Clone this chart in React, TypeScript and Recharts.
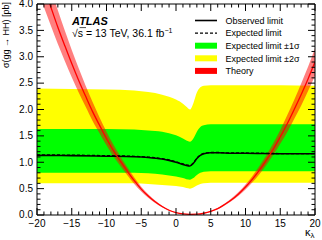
import React from 'react';
import { ComposedChart, Area, Line, XAxis, YAxis, Legend, ReferenceLine } from 'recharts';

const FONT = '"Liberation Sans", Arial, Helvetica, sans-serif';

// kappa_lambda grid for the limit curves
const kappaBand = [-20, -15, -10, -6, -4, -2, -1, 0, 1, 1.5, 2, 2.5, 3, 3.5, 4, 5, 6, 8, 10, 15, 20];
const observed = [1.13, 1.125, 1.115, 1.105, 1.09, 1.06, 1.035, 1.0, 0.96, 0.94, 0.93, 0.98, 1.07, 1.13, 1.16, 1.18, 1.18, 1.17, 1.17, 1.16, 1.16];
const expected = [1.14, 1.135, 1.125, 1.113, 1.098, 1.068, 1.043, 1.008, 0.968, 0.948, 0.938, 0.988, 1.078, 1.138, 1.166, 1.185, 1.185, 1.175, 1.175, 1.165, 1.165];
const plus2 = [2.4, 2.39, 2.38, 2.36, 2.33, 2.28, 2.24, 2.19, 2.11, 2.05, 2.0, 2.12, 2.32, 2.42, 2.45, 2.46, 2.46, 2.46, 2.46, 2.46, 2.45];
const plus1 = [1.63, 1.63, 1.63, 1.62, 1.6, 1.58, 1.55, 1.51, 1.45, 1.41, 1.39, 1.45, 1.58, 1.67, 1.7, 1.72, 1.72, 1.72, 1.72, 1.72, 1.72];
const minus1 = [0.8, 0.8, 0.8, 0.8, 0.79, 0.77, 0.75, 0.73, 0.7, 0.68, 0.67, 0.7, 0.76, 0.8, 0.82, 0.83, 0.83, 0.83, 0.83, 0.83, 0.83];
const minus2 = [0.6, 0.6, 0.6, 0.6, 0.59, 0.57, 0.56, 0.55, 0.53, 0.51, 0.5, 0.52, 0.56, 0.59, 0.6, 0.61, 0.61, 0.61, 0.61, 0.61, 0.61];

// theory prediction
const kappaTheory = [-20, -19, -18, -17, -16, -15, -14, -13, -12, -11, -10, -9, -8, -7, -6, -5, -4, -3, -2, -1, 0, 1, 2, 3, 4, 5, 6, 7, 8, 9, 10, 11, 12, 13, 14, 15, 16, 17, 18, 19, 20];
const theory = [4.74, 4.33, 3.94, 3.56, 3.21, 2.87, 2.55, 2.25, 1.96, 1.7, 1.45, 1.22, 1.02, 0.83, 0.65, 0.49, 0.36, 0.25, 0.16, 0.09, 0.045, 0.02, 0.012, 0.015, 0.033, 0.068, 0.12, 0.2, 0.29, 0.4, 0.53, 0.68, 0.85, 1.04, 1.25, 1.48, 1.73, 2.0, 2.28, 2.58, 2.9];
const theoryLow = [4.31, 3.94, 3.59, 3.24, 2.92, 2.61, 2.32, 2.05, 1.78, 1.55, 1.32, 1.11, 0.93, 0.755, 0.59, 0.446, 0.328, 0.228, 0.146, 0.082, 0.041, 0.018, 0.011, 0.014, 0.03, 0.062, 0.109, 0.182, 0.264, 0.364, 0.482, 0.619, 0.774, 0.946, 1.14, 1.35, 1.57, 1.82, 2.07, 2.35, 2.64];
const theoryHigh = [5.17, 4.72, 4.29, 3.88, 3.5, 3.13, 2.78, 2.45, 2.14, 1.85, 1.58, 1.33, 1.11, 0.905, 0.71, 0.534, 0.392, 0.273, 0.174, 0.098, 0.049, 0.022, 0.013, 0.016, 0.036, 0.074, 0.131, 0.218, 0.316, 0.436, 0.578, 0.741, 0.927, 1.134, 1.36, 1.61, 1.89, 2.18, 2.49, 2.81, 3.16];

// axis ticks (all ticks; every 5th x tick and every 5th y tick is a labelled major tick)
const xMinor: number[] = [];
for (let i = -20; i <= 20; i++) xMinor.push(i);
const yMinor: number[] = [];
for (let i = 0; i <= 40; i++) yMinor.push(i / 10);
const X_DOMAIN = [-20, 20];
const Y_DOMAIN = [0, 4];

const legendItems = [
  { label: 'Observed limit', kind: 'line' },
  { label: 'Expected limit', kind: 'dash' },
  { label: 'Expected limit \u00b11\u03c3', kind: 'box', color: '#00ff00' },
  { label: 'Expected limit \u00b12\u03c3', kind: 'box', color: '#ffff00' },
  { label: 'Theory', kind: 'box', color: '#ff0000' },
];

const bandData = kappaBand.map((k, i) => ({
  k,
  obs: observed[i],
  exp: expected[i],
  s1: [minus1[i], plus1[i]],
  s2: [minus2[i], plus2[i]],
}));

const theoryData = kappaTheory.map((k, i) => ({
  k,
  th: theory[i],
  thBand: [theoryLow[i], theoryHigh[i]],
}));

// layout
const W = 322;
const H = 240;
const MARGIN = { top: 4, right: 7, bottom: 0, left: 0 };
const XAXIS_H = 25;
const YAXIS_W = 37;
const PLOT_TOP = MARGIN.top;
const PLOT_BOTTOM = H - MARGIN.bottom - XAXIS_H;
const PLOT_LEFT = MARGIN.left + YAXIS_W;
const PLOT_RIGHT = W - MARGIN.right;
const MAJOR = 7;
const MINOR = 3.5;

const fmtX = (v: number) => (v < 0 ? '\u2212' + Math.abs(v) : String(v));

const XTick = (props: any) => {
  const { x, payload } = props;
  const v = payload.value as number;
  const major = Math.round(v) % 5 === 0;
  const len = major ? MAJOR : MINOR;
  return (
    <g>
      <line x1={x} x2={x} y1={PLOT_BOTTOM} y2={PLOT_BOTTOM - len} stroke="#000" strokeWidth={1} />
      <line x1={x} x2={x} y1={PLOT_TOP} y2={PLOT_TOP + len} stroke="#000" strokeWidth={1} />
      {major && (
        <text x={x} y={PLOT_BOTTOM + 11.6} textAnchor="middle" fontSize={10} fontFamily={FONT} fill="#000">
          {fmtX(v)}
        </text>
      )}
    </g>
  );
};

const YTick = (props: any) => {
  const { y, payload } = props;
  const v = payload.value as number;
  const major = Math.abs(v * 2 - Math.round(v * 2)) < 1e-6;
  const len = major ? MAJOR : MINOR;
  return (
    <g>
      <line x1={PLOT_LEFT} x2={PLOT_LEFT + len} y1={y} y2={y} stroke="#000" strokeWidth={1} />
      <line x1={PLOT_RIGHT} x2={PLOT_RIGHT - len} y1={y} y2={y} stroke="#000" strokeWidth={1} />
      {major && (
        <text x={PLOT_LEFT - 4} y={y + 3.3} textAnchor="end" fontSize={10} fontFamily={FONT} fill="#000">
          {v.toFixed(1)}
        </text>
      )}
    </g>
  );
};

const renderLegend = () => (
  <svg width={130} height={72} style={{ display: 'block' }}>
    {legendItems.map((it, i) => {
      const cy = 10.5 + i * 12.6;
      return (
        <g key={it.label}>
          {it.kind === 'line' && <line x1={5} x2={27} y1={cy} y2={cy} stroke="#000" strokeWidth={1.6} />}
          {it.kind === 'dash' && <line x1={5} x2={27} y1={cy} y2={cy} stroke="#000" strokeWidth={1.4} strokeDasharray="3 2" />}
          {it.kind === 'box' && <rect x={5} y={cy - 3} width={22} height={6} fill={it.color} />}
          <text x={35.5} y={cy + 3.2} fontSize={9} fontFamily={FONT} fill="#000">{it.label}</text>
        </g>
      );
    })}
  </svg>
);

export default function App() {
  return (
    <div style={{ position: 'absolute', left: 0, top: 0, width: W, height: H, background: '#fff' }}>
      <ComposedChart width={W} height={H} data={bandData} margin={MARGIN}>
        <Area data={bandData} dataKey="s2" type="monotone" fill="#ffff00" fillOpacity={1} stroke="none" isAnimationActive={false} />
        <Area data={bandData} dataKey="s1" type="monotone" fill="#00ff00" fillOpacity={1} stroke="none" isAnimationActive={false} />
        <Line data={bandData} dataKey="exp" type="monotone" stroke="#000" strokeWidth={1.3} strokeDasharray="3 2" dot={false} isAnimationActive={false} />
        <Line data={bandData} dataKey="obs" type="monotone" stroke="#000" strokeWidth={1.6} dot={false} isAnimationActive={false} />
        <Area data={theoryData} dataKey="thBand" type="monotone" fill="#ff0000" fillOpacity={0.5} stroke="none" isAnimationActive={false} />
        <Line data={theoryData} dataKey="th" type="monotone" stroke="#ff0000" strokeWidth={1.3} dot={false} isAnimationActive={false} />

        <ReferenceLine y={Y_DOMAIN[1]} stroke="#000" strokeWidth={1} />
        <ReferenceLine x={X_DOMAIN[1]} stroke="#000" strokeWidth={1} />

        <XAxis dataKey="k" type="number" domain={X_DOMAIN} allowDataOverflow ticks={xMinor} interval={0}
          tickLine={false} tickSize={0} tickMargin={0} height={XAXIS_H} axisLine={{ stroke: '#000' }}
          tick={<XTick />} />
        <YAxis type="number" domain={Y_DOMAIN} allowDataOverflow ticks={yMinor} interval={0}
          tickLine={false} tickSize={0} tickMargin={0} width={YAXIS_W} axisLine={{ stroke: '#000' }}
          tick={<YTick />} />

        <Legend layout="vertical" align="center" verticalAlign="middle" content={renderLegend}
          wrapperStyle={{ left: 190, top: 10, width: 130, height: 72 }} />
      </ComposedChart>
      <svg width={W} height={H} style={{ position: 'absolute', left: 0, top: 0, pointerEvents: 'none' }}>
        <text x={72} y={25} fontSize={11} fontWeight="bold" fontStyle="italic" fontFamily={FONT} fill="#000">ATLAS</text>
        <text x={72} y={36.5} fontSize={10.5} fontFamily={FONT} fill="#000">
          {'\u221as = 13 TeV, 36.1 fb'}
          <tspan fontSize={7} dy={-4}>{'\u22121'}</tspan>
        </text>
        <line x1={79.5} x2={86} y1={27.6} y2={27.6} stroke="#000" strokeWidth={0.7} />
        <text transform="translate(8.5,2) rotate(-90)" textAnchor="end" fontSize={9} fontFamily={FONT} fill="#000">
          {'\u03c3(gg \u2192 HH) [pb]'}
        </text>
        <text x={305} y={236} fontSize={11} fontFamily={FONT} fill="#000">
          {'\u03ba'}
          <tspan fontSize={8} dy={2}>{'\u03bb'}</tspan>
        </text>
      </svg>
    </div>
  );
}
